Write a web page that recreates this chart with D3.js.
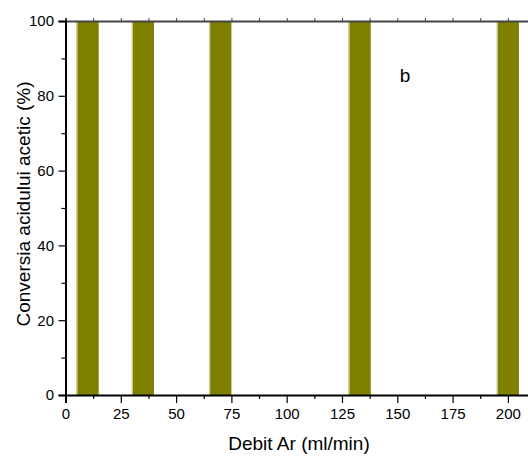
<!DOCTYPE html>
<html>
<head>
<meta charset="utf-8">
<script src="https://cdn.jsdelivr.net/npm/d3@7"></script>
<style>
  body { margin: 0; background: #fff; }
  svg { display: block; font-family: "Liberation Sans", Arial, sans-serif; }
</style>
</head>
<body>
<div id="chart"></div>
<script>
// data
let debit = [10, 35, 70, 133, 200];
let conversia = [100, 100, 100, 100, 100];
let barWidth = 10; // ml/min
let xTicks = [0, 25, 50, 75, 100, 125, 150, 175, 200];
let yTicks = [0, 20, 40, 60, 80, 100];

let W = 528, H = 457;
let margin = {top: 21, right: -2, bottom: 62, left: 65.5};
let w = W - margin.left - margin.right;
let h = H - margin.top - margin.bottom;

let svg = d3.select("#chart").append("svg")
    .attr("width", W).attr("height", H);
let g = svg.append("g")
    .attr("transform", "translate(" + margin.left + "," + margin.top + ")");

let x = d3.scaleLinear().domain([0, 210]).range([0, w]);
let y = d3.scaleLinear().domain([0, 100]).range([h, 0]);

// bars
g.selectAll("rect.bar")
    .data(debit)
    .enter()
    .append("rect")
    .attr("class", "bar")
    .attr("x", d => x(d - barWidth / 2))
    .attr("y", (d, i) => y(conversia[i]))
    .attr("width", d => x(d + barWidth / 2) - x(d - barWidth / 2))
    .attr("height", (d, i) => y(0) - y(conversia[i]))
    .attr("fill", "#808000");

// pale left edge on each bar
g.selectAll("line.edge")
    .data(debit)
    .enter()
    .append("line")
    .attr("x1", d => x(d - barWidth / 2) + 0.5)
    .attr("x2", d => x(d - barWidth / 2) + 0.5)
    .attr("y1", (d, i) => y(conversia[i]))
    .attr("y2", y(0))
    .attr("stroke", "#d4d4a8")
    .attr("stroke-width", 1);

// top frame line with small ticks
let topAxis = g.append("g").call(d3.axisTop(x).tickValues(d3.range(0, 211, 12.5)).tickSize(3).tickFormat(""));
topAxis.select(".domain").attr("stroke", "#444").attr("stroke-width", 2);
topAxis.selectAll(".tick line").attr("stroke", "#444");

// bottom axis
let xAxis = g.append("g")
    .attr("transform", "translate(0," + h + ")")
    .call(d3.axisBottom(x).tickValues(xTicks).tickSize(8).tickPadding(5));
xAxis.append("g").call(d3.axisBottom(x).tickValues(d3.range(12.5, 211, 25)).tickSize(4).tickFormat(""))
    .select(".domain").remove();
xAxis.selectAll(".domain").attr("stroke", "#000").attr("stroke-width", 2);
xAxis.selectAll(".tick line").attr("stroke", "#000").attr("stroke-width", 1.2);
xAxis.selectAll("text").attr("font-size", "15px").attr("fill", "#000")
    .attr("font-family", "Liberation Sans, Arial, sans-serif");

// left axis
let yAxis = g.append("g")
    .call(d3.axisLeft(y).tickValues(yTicks).tickSize(7).tickPadding(4.5));
yAxis.append("g").call(d3.axisLeft(y).tickValues(d3.range(10, 100, 20)).tickSize(4).tickFormat(""))
    .select(".domain").remove();
yAxis.selectAll(".domain").attr("stroke", "#000").attr("stroke-width", 2);
yAxis.selectAll(".tick line").attr("stroke", "#000").attr("stroke-width", 1.2);
yAxis.selectAll("text").attr("font-size", "15px").attr("fill", "#000")
    .attr("font-family", "Liberation Sans, Arial, sans-serif");

// titles
svg.append("text")
    .attr("x", 299).attr("y", 450)
    .attr("text-anchor", "middle")
    .attr("font-size", "19px")
    .text("Debit Ar (ml/min)");

svg.append("text")
    .attr("transform", "translate(30,204) rotate(-90)")
    .attr("text-anchor", "middle")
    .attr("font-size", "19px")
    .text("Conversia acidului acetic (%)");

svg.append("text")
    .attr("x", 405).attr("y", 82)
    .attr("text-anchor", "middle")
    .attr("font-size", "19px")
    .text("b");
</script>
</body>
</html>
